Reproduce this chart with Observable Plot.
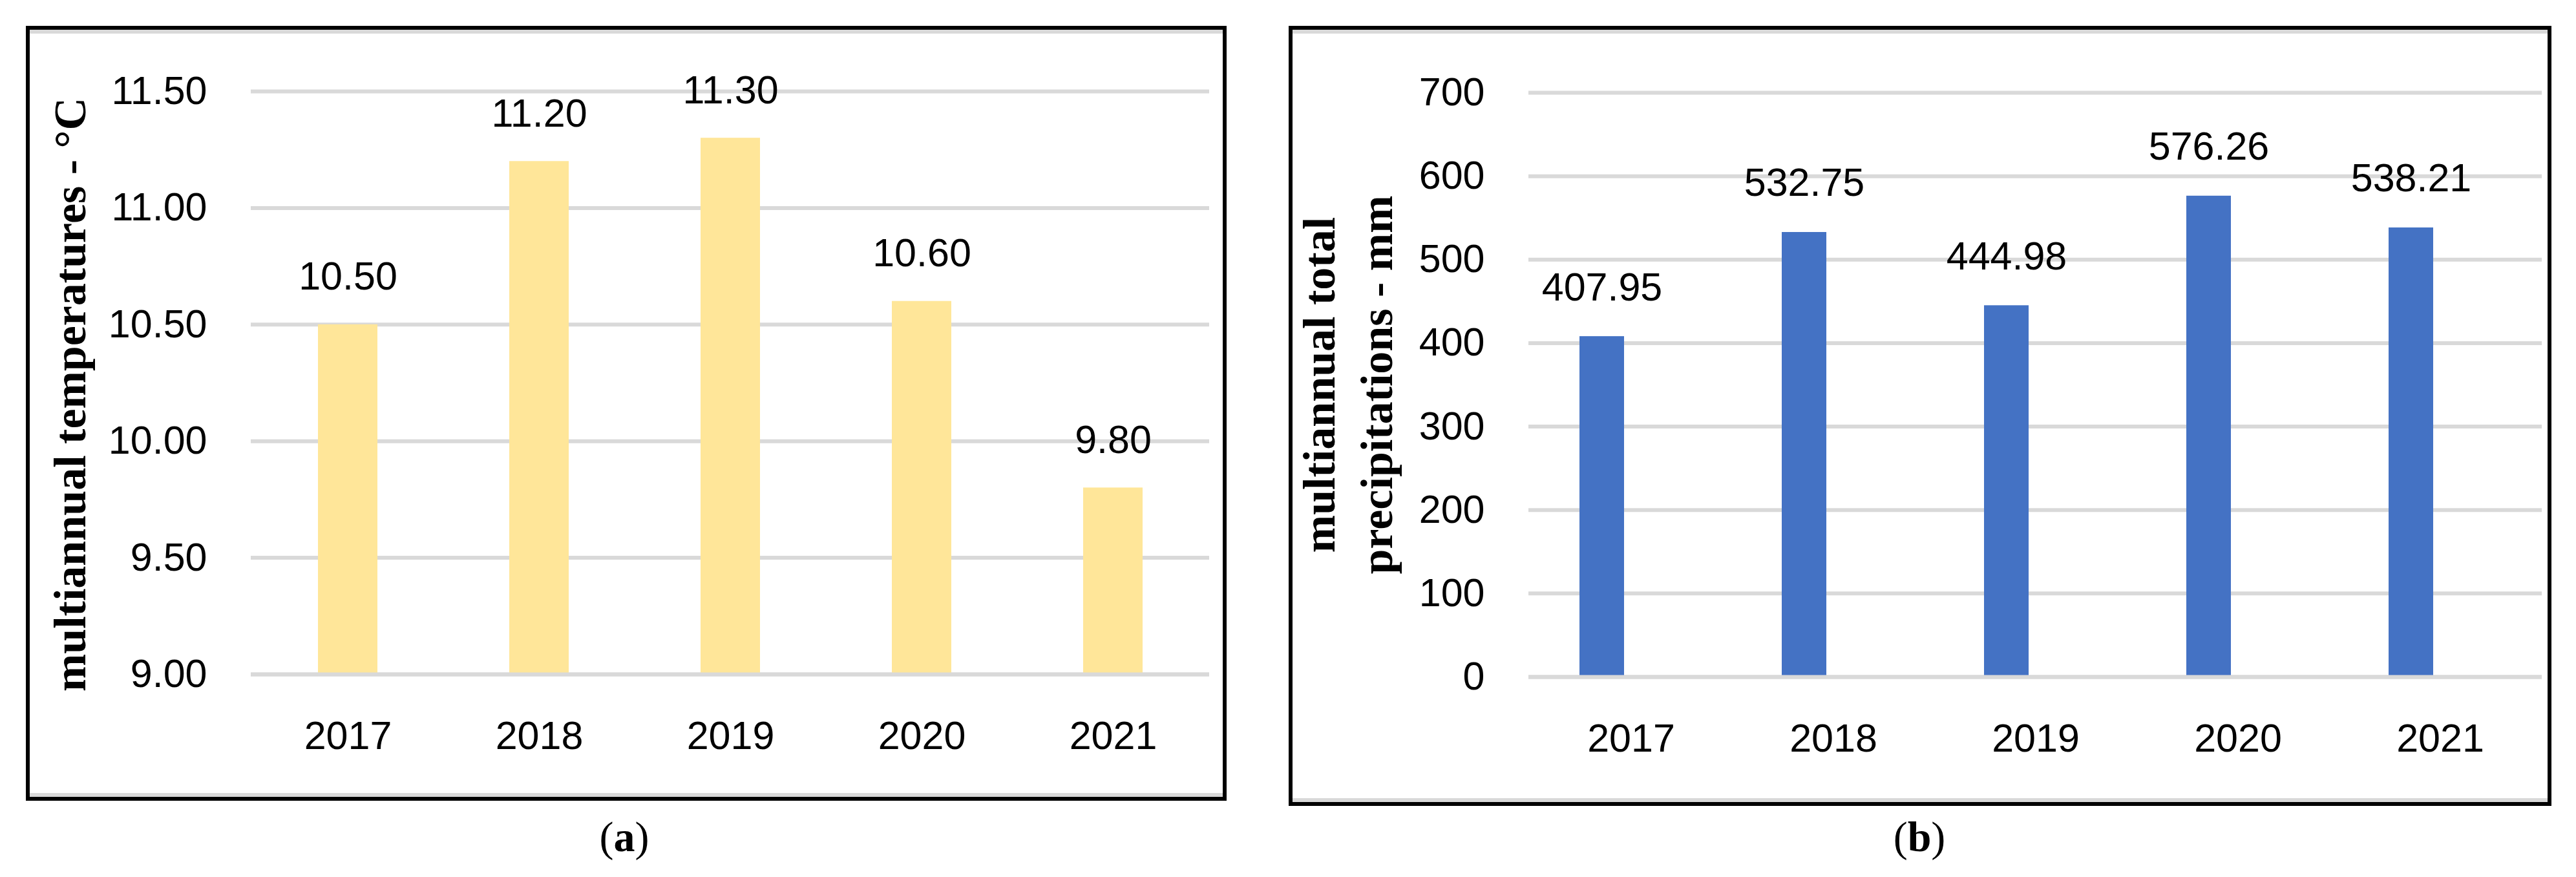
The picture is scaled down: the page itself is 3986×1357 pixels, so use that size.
<!DOCTYPE html>
<html><head><meta charset="utf-8">
<script src="https://cdn.jsdelivr.net/npm/d3@7"></script>
<script src="https://cdn.jsdelivr.net/npm/@observablehq/plot@0.6"></script>
<style>
html,body{margin:0;padding:0;background:#fff;}
body{width:3986px;height:1357px;position:relative;overflow:hidden;}
.frame{position:absolute;box-sizing:border-box;border:6px solid #000;background:#fff;}
.inner{position:absolute;left:0;right:0;top:0;bottom:0;border-top:6px solid #d9d9d9;border-bottom:6px solid #d9d9d9;box-sizing:border-box;pointer-events:none;}
.chart{position:absolute;left:0;top:0;}
.cap{position:absolute;font-family:"Liberation Serif",serif;font-size:66px;line-height:1;text-align:center;width:200px;color:#000;}
</style></head><body>
<div class="frame" style="left:40px;top:40px;width:1858px;height:1199px"><div class="chart" id="ca" style="width:1846px;height:1187px"></div><div class="inner"></div></div>
<div class="frame" style="left:1994px;top:40px;width:1954px;height:1207px"><div class="chart" id="cb" style="width:1942px;height:1195px"></div><div class="inner"></div></div>
<div class="cap" id="capA" style="left:866px;top:1262px"></div>
<div class="cap" id="capB" style="left:2870px;top:1262px"></div>
<script>
const years = ["2017", "2018", "2019", "2020", "2021"];
const temperatures = [10.50, 11.20, 11.30, 10.60, 9.80];
const precipitations = [407.95, 532.75, 444.98, 576.26, 538.21];
const tempTicks = [9.00, 9.50, 10.00, 10.50, 11.00, 11.50];
const precipTicks = [0, 100, 200, 300, 400, 500, 600, 700];
const tempLabel = "multiannual temperatures - °C";
const precipLabel = "multiannual total\nprecipitations - mm";
const captions = ["a", "b"];

document.getElementById("capA").innerHTML = "(<b>" + captions[0] + "</b>)";
document.getElementById("capB").innerHTML = "(<b>" + captions[1] + "</b>)";

const tempData = years.map((year, i) => ({year, value: temperatures[i]}));
const precipData = years.map((year, i) => ({year, value: precipitations[i]}));
const fmt2 = d3.format(".2f");

const baseStyle = {fontFamily: "Liberation Sans, Arial, sans-serif", fontSize: "61px", color: "#000", background: "transparent", overflow: "visible"};
const labelFont = {fontFamily: "Liberation Serif, serif", fontWeight: "bold", fontSize: 70, fill: "#000", textAnchor: "middle"};

const chartA = Plot.plot({
  width: 1846, height: 1187,
  marginTop: 95, marginBottom: 190, marginLeft: 342, marginRight: 21,
  style: baseStyle,
  x: {type: "band", domain: years, padding: 0, label: null},
  y: {domain: [tempTicks[0], tempTicks[tempTicks.length - 1]], label: null},
  marks: [
    Plot.ruleY(tempTicks, {stroke: "#d9d9d9", strokeWidth: 6}),
    Plot.barY(tempData, {x: "year", y1: tempTicks[0], y2: "value", fill: "#FFE699", insetLeft: 102, insetRight: 102}),
    Plot.ruleY([tempTicks[0]], {stroke: "#d9d9d9", strokeWidth: 6}),
    Plot.text(tempData, {x: "year", y: "value", text: d => fmt2(d.value), lineAnchor: "bottom", dy: -54, fill: "#000"}),
    Plot.axisY(tempTicks, {tickSize: 0, tickPadding: 68, tickFormat: d3.format(".2f"), label: null}),
    Plot.axisX({tickSize: 0, tickPadding: 72, label: null}),
    Plot.text([tempLabel], {frameAnchor: "left", rotate: -90, lineAnchor: "bottom", dx: -257, dy: 18, ...labelFont})
  ]
});
document.getElementById("ca").appendChild(chartA);

const chartB = Plot.plot({
  width: 1942, height: 1195,
  marginTop: 97, marginBottom: 194, marginLeft: 365, marginRight: 9,
  style: baseStyle,
  x: {type: "band", domain: years, padding: 0, label: null},
  y: {domain: [precipTicks[0], precipTicks[precipTicks.length - 1]], label: null},
  marks: [
    Plot.ruleY(precipTicks, {stroke: "#d9d9d9", strokeWidth: 6}),
    Plot.barY(precipData, {x: "year", y1: precipTicks[0], y2: "value", fill: "#4472C4", insetLeft: 77, insetRight: 167}),
    Plot.ruleY([precipTicks[0]], {stroke: "#d9d9d9", strokeWidth: 6}),
    Plot.text(precipData, {x: "year", y: "value", text: d => fmt2(d.value), lineAnchor: "bottom", dy: -56, dx: -45, fill: "#000"}),
    Plot.axisY(precipTicks, {tickSize: 0, tickPadding: 68, tickFormat: d3.format("d"), label: null}),
    Plot.axisX({tickSize: 0, tickPadding: 72, label: null}),
    Plot.text([precipLabel], {frameAnchor: "left", rotate: -90, lineAnchor: "bottom", lineHeight: 1.27, dx: -212, dy: 0, ...labelFont})
  ]
});
document.getElementById("cb").appendChild(chartB);
</script>
</body></html>
